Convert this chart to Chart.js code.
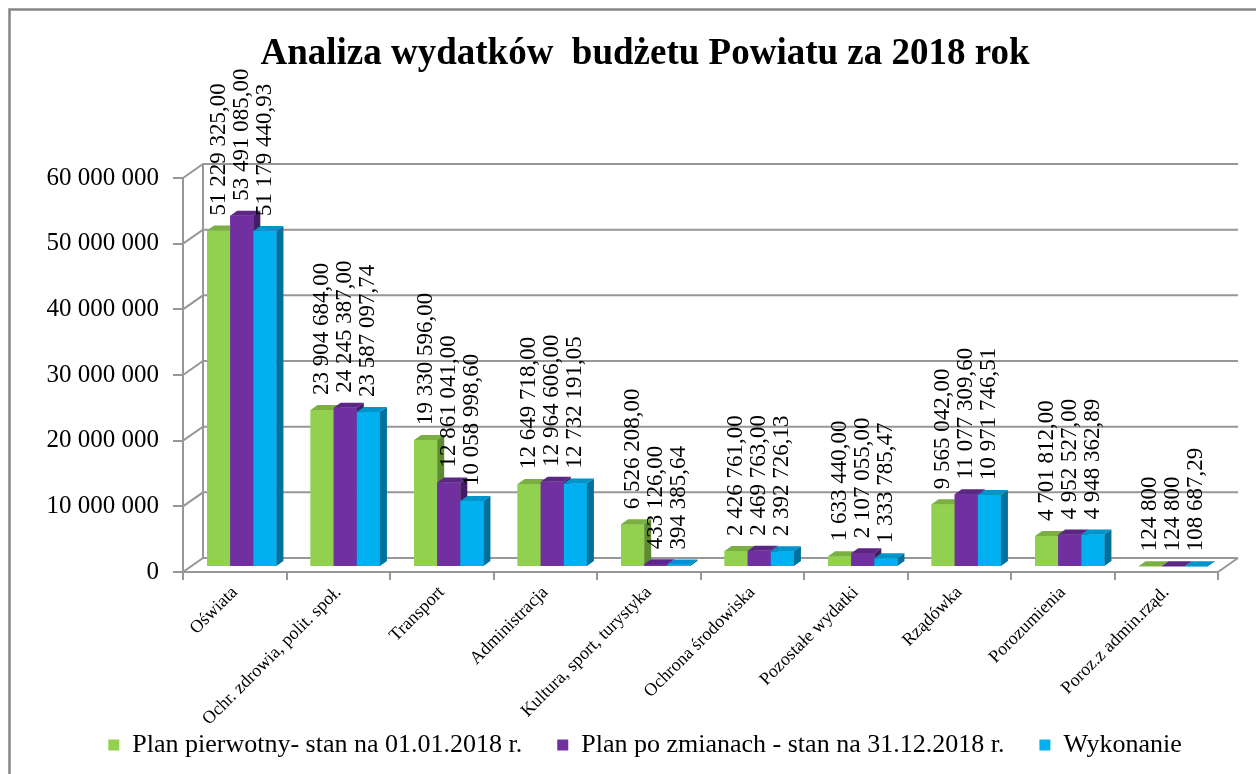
<!DOCTYPE html>
<html><head><meta charset="utf-8">
<script src="https://cdn.jsdelivr.net/npm/chart.js@4"></script>
<style>html,body{margin:0;padding:0;background:#fff}canvas{display:block}</style>
</head><body>
<canvas id="c" width="1256" height="774"></canvas>
<script>
const categories = ['Oświata','Ochr. zdrowia, polit. społ.','Transport','Administracja','Kultura, sport, turystyka','Ochrona środowiska','Pozostałe wydatki','Rządówka','Porozumienia','Poroz.z admin.rząd.'];
const planPierwotny = [51229325.00, 23904684.00, 19330596.00, 12649718.00, 6526208.00, 2426761.00, 1633440.00, 9565042.00, 4701812.00, 124800];
const planPoZmianach = [53491085.00, 24245387.00, 12861041.00, 12964606.00, 433126.00, 2469763.00, 2107055.00, 11077309.60, 4952527.00, 124800];
const wykonanie = [51179440.93, 23587097.74, 10058998.60, 12732191.05, 394385.64, 2392726.13, 1333785.47, 10971746.51, 4948362.89, 108687.29];
const seriesNames = ['Plan pierwotny- stan na 01.01.2018 r.','Plan po zmianach - stan na 31.12.2018 r.','Wykonanie'];
const yTickValues = [0, 10000000, 20000000, 30000000, 40000000, 50000000, 60000000];
const wholeLabelCategories = ['Poroz.z admin.rząd.'];
const chartTitle = 'Analiza wydatków  budżetu Powiatu za 2018 rok';

const faceColors = [
  {front:'#92D050', top:'#7BAF43', side:'#5E8B30'},
  {front:'#7030A0', top:'#5B2684', side:'#451C66'},
  {front:'#00B0F0', top:'#0094CA', side:'#00719C'}
];
const DX = 20, DY = 14;   // back wall depth
const BX = 7, BY = 5;     // bar plane offset / bar depth
const SERIF = '"Liberation Serif", "Times New Roman", serif';

function groupThousands(s){ return s.replace(/\B(?=(\d{3})+(?!\d))/g, ' '); }
function fmtLabel(v, cat){
  const whole = wholeLabelCategories.includes(cat) && Number.isInteger(v);
  const parts = v.toFixed(whole ? 0 : 2).split('.');
  return groupThousands(parts[0]) + (parts[1] ? ',' + parts[1] : '');
}

const depthPlugin = {
  id: 'depth3d',
  afterLayout(chart){
    // let tick labels overflow their scale boxes (as in the original)
    chart.scales.x.bottom = chart.height;
    chart.scales.y.left = 0;
  },
  beforeDraw(chart){
    const ctx = chart.ctx;
    ctx.save();
    ctx.fillStyle = '#fff';
    ctx.fillRect(0, 0, chart.width, chart.height);
    ctx.strokeStyle = '#858585';
    ctx.lineWidth = 2.5;
    ctx.beginPath();
    ctx.moveTo(9.5, chart.height); ctx.lineTo(9.5, 9.5); ctx.lineTo(chart.width, 9.5);
    ctx.stroke();
    ctx.restore();
  },
  beforeDatasetsDraw(chart){
    const ctx = chart.ctx;
    const {left, right} = chart.chartArea;
    const y = chart.scales.y;
    const y0 = y.getPixelForValue(0), yTop = y.getPixelForValue(y.max);
    ctx.save();
    ctx.strokeStyle = '#979797';
    ctx.lineWidth = 2;
    ctx.beginPath();
    ctx.moveTo(left + DX, y0 - DY); ctx.lineTo(left + DX, yTop - DY);
    y.ticks.forEach(t => {
      const py = y.getPixelForValue(t.value);
      ctx.moveTo(left, py); ctx.lineTo(left + DX, py - DY); ctx.lineTo(right + DX, py - DY);
    });
    ctx.moveTo(right, y0); ctx.lineTo(right + DX, y0 - DY);
    ctx.stroke();
    ctx.restore();
    ctx.save();
    ctx.translate(BX, -BY);
  },
  afterDatasetsDraw(chart){
    const ctx = chart.ctx;
    const metas = chart.data.datasets.map((d, i) => chart.getDatasetMeta(i));
    const n = chart.data.labels.length;
    for (let j = 0; j < n; j++) {
      metas.forEach((m, i) => {
        const el = m.data[j];
        const {x, y, base, width} = el.getProps(['x','y','base','width'], true);
        const l = x - width / 2, r = x + width / 2;
        const c = faceColors[i];
        ctx.fillStyle = c.front;
        ctx.fillRect(l, y, width, base - y);
        ctx.fillStyle = c.top;
        ctx.beginPath();
        ctx.moveTo(l, y); ctx.lineTo(l + BX, y - BY); ctx.lineTo(r + BX, y - BY); ctx.lineTo(r, y);
        ctx.closePath(); ctx.fill();
        ctx.fillStyle = c.side;
        ctx.beginPath();
        ctx.moveTo(r, y); ctx.lineTo(r + BX, y - BY); ctx.lineTo(r + BX, base - BY); ctx.lineTo(r, base);
        ctx.closePath(); ctx.fill();
      });
    }
    ctx.fillStyle = '#000';
    ctx.font = '23px ' + SERIF;
    ctx.textAlign = 'left';
    ctx.textBaseline = 'middle';
    metas.forEach((m, i) => {
      m.data.forEach((el, j) => {
        const v = chart.data.datasets[i].data[j];
        ctx.save();
        ctx.translate(el.x, el.y - 15);
        ctx.rotate(-Math.PI / 2);
        ctx.fillText(fmtLabel(v, chart.data.labels[j]), 0, 0);
        ctx.restore();
      });
    });
    ctx.restore();
  }
};

const seriesData = [planPierwotny, planPoZmianach, wykonanie];

new Chart(document.getElementById('c'), {
  type: 'bar',
  data: {
    labels: categories,
    datasets: seriesData.map((d, i) => ({
      label: seriesNames[i],
      data: d,
      backgroundColor: faceColors[i].front,
      borderWidth: 0,
      categoryPercentage: 0.67,
      barPercentage: 1.0
    }))
  },
  options: {
    responsive: false,
    animation: false,
    layout: {padding: {left: 72, right: 38, top: 0, bottom: 6}},
    plugins: {
      title: {
        display: true,
        text: chartTitle,
        color: '#000',
        font: {family: SERIF, size: 37, weight: 'bold', lineHeight: 1.2},
        padding: {top: 32, bottom: 101.6}
      },
      legend: {
        position: 'bottom',
        labels: {
          boxWidth: 11, boxHeight: 11,
          color: '#000',
          font: {family: SERIF, size: 26},
          padding: 35
        }
      },
      tooltip: {enabled: false}
    },
    scales: {
      x: {
        grid: {drawOnChartArea: false, drawTicks: true, tickLength: 8, color: '#979797', lineWidth: 2, offset: true},
        border: {display: true, color: '#979797', width: 2},
        ticks: {color: '#000', font: {family: SERIF, size: 18}, maxRotation: 45, minRotation: 45, autoSkip: false, padding: 2},
        afterFit(scale){ scale.height = 125; }
      },
      y: {
        min: 0, max: 60000000,
        afterBuildTicks(scale){ scale.ticks = yTickValues.map(v => ({value: v})); },
        grid: {drawOnChartArea: false, drawTicks: true, tickLength: 10, color: '#979797', lineWidth: 2},
        border: {display: true, color: '#979797', width: 2},
        ticks: {color: '#000', font: {family: SERIF, size: 25}, padding: 14,
          callback: v => groupThousands(String(v))},
        afterFit(scale){ scale.width = 111; }
      }
    }
  },
  plugins: [depthPlugin]
});
</script>
</body></html>
